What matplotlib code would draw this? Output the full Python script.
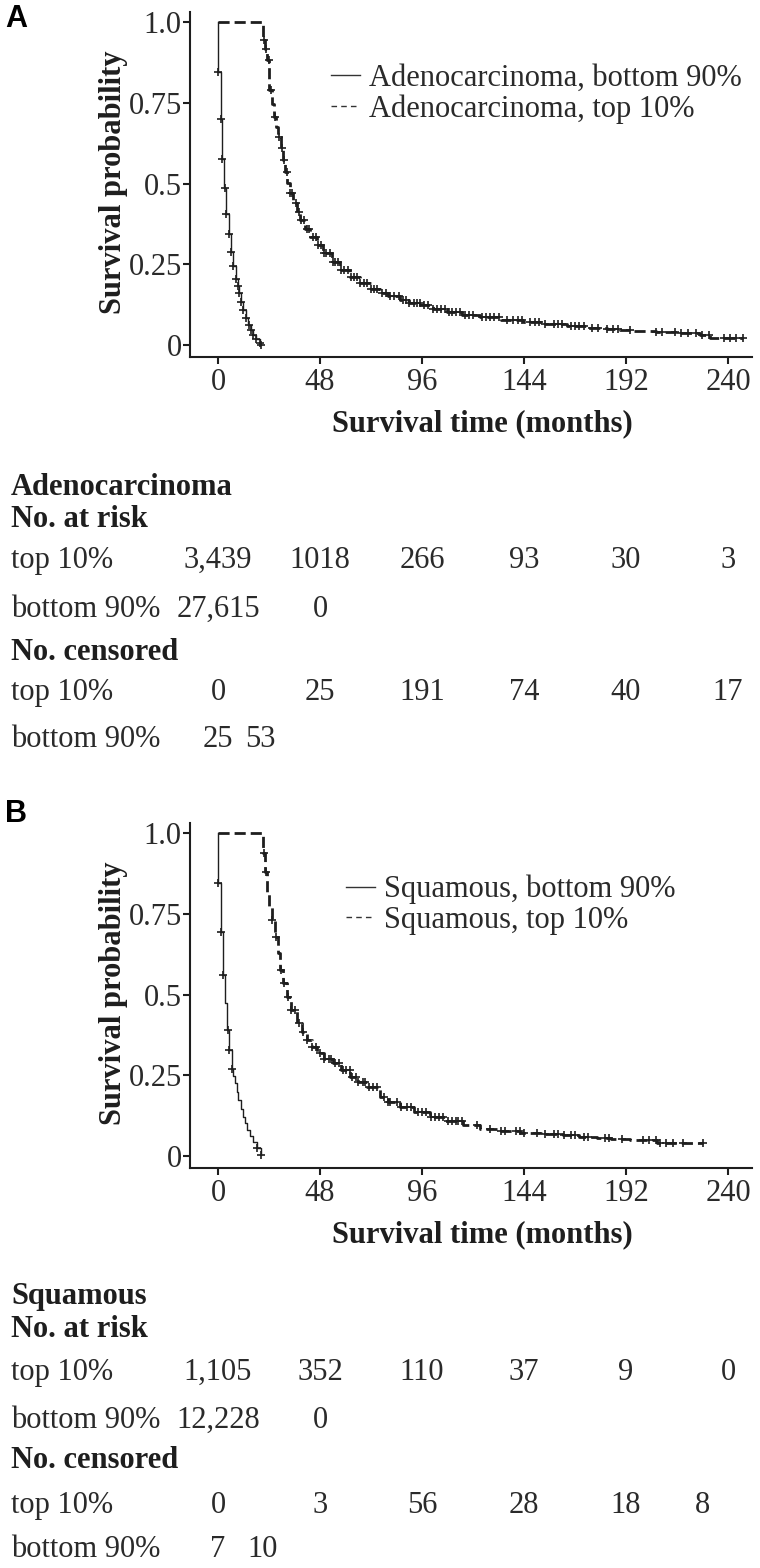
import numpy as np
import matplotlib
matplotlib.use("Agg")
import matplotlib.pyplot as plt
import matplotlib.transforms as mtransforms
from matplotlib.lines import Line2D

plt.rcParams['font.family'] = ['Liberation Serif', 'DejaVu Serif']

# ---- Panel A: Adenocarcinoma, KM curves ----
a_bot_t = [0, 0, 1.2, 2.0, 3.0, 3.8, 5.0, 6.1, 7.2, 8.5, 9.2, 10.0, 10.9, 11.9, 13.0, 14.3,
           15.4, 16.6, 18.0, 19.8, 20.4]
a_bot_s = [1.0, 0.846, 0.699, 0.575, 0.485, 0.406, 0.344, 0.289, 0.245, 0.206, 0.183, 0.160,
           0.134, 0.108, 0.085, 0.062, 0.046, 0.031, 0.018, 0.005, 0.0]
a_bot_cens = [0.05, 1.25, 2.05, 3.05, 3.85, 5.05, 6.15, 7.25, 8.55, 9.25, 10.05, 10.95, 11.95,
              13.05, 14.35, 15.45, 16.65, 18.05, 19.85, 20.4]

a_top_t = [0, 21.0, 21.3, 22.0, 22.9, 24.2, 25.2, 26.4, 27.4, 28.4, 29.4, 30.4, 31.5, 32.6,
           34.0, 35.5, 37.0, 38.6, 40.8, 43.3, 46.4, 49.6, 53.4, 57.4, 62.0, 66.8, 72.0, 76.2,
           80.0, 85.6, 90.0, 95.1, 101.0, 107.6, 115.0, 123.3, 133.0, 143.7, 153.0, 164.1,
           173.0, 182.9, 189.0, 195.4, 206.0, 217.4, 226.8, 231.5, 247.2]
a_top_s = [1.0, 1.0, 0.944, 0.915, 0.882, 0.789, 0.745, 0.707, 0.676, 0.645, 0.610, 0.573,
           0.537, 0.501, 0.470, 0.439, 0.413, 0.387, 0.360, 0.335, 0.310, 0.284, 0.258, 0.232,
           0.210, 0.191, 0.172, 0.160, 0.151, 0.139, 0.131, 0.124, 0.113, 0.103, 0.094, 0.086,
           0.079, 0.072, 0.066, 0.059, 0.054, 0.049, 0.046, 0.043, 0.040, 0.038, 0.031, 0.023,
           0.023]
a_top_cens = [21.5, 22.5, 24, 25, 27, 28.5, 30, 31, 32.5, 34, 35, 36.5, 38, 39, 40.5, 42, 43,
              44.5, 46, 47, 48.5, 50, 51, 52.5, 54, 55, 56.5, 58, 59.5, 61, 62.5, 64, 65.5, 67,
              68.5, 70, 72, 73.5, 75, 77, 79, 81, 83, 85, 87, 88.5, 90, 92, 93.5, 95, 97, 99,
              101, 103, 105, 107, 108.5, 110, 112, 114, 116, 118, 120, 124, 126, 128, 130, 132,
              136, 139, 141, 143, 147, 149, 151, 154, 158, 160, 162, 166, 168, 170, 172, 176,
              179, 183, 186, 188, 194, 206, 209, 215, 218, 221, 225, 228, 231, 238, 241, 244, 247]

# ---- Panel B: Squamous ----
b_bot_t = [0, 0, 1.2, 2.2, 3.3, 4.4, 5.3, 6.4, 7.2, 8.0, 8.8, 9.6, 10.6, 11.6, 12.5, 13.5,
           15.0, 16.6, 18.3, 20.1]
b_bot_s = [1.0, 0.844, 0.694, 0.560, 0.473, 0.390, 0.328, 0.271, 0.248, 0.225, 0.199, 0.173,
           0.147, 0.122, 0.101, 0.080, 0.062, 0.044, 0.024, 0.003]
b_bot_cens = [0.05, 1.25, 2.25, 4.45, 5.35, 6.45, 18.4, 20.1]

b_top_t = [0, 21.0, 21.3, 22.0, 22.9, 24.0, 25.3, 26.8, 28.0, 29.2, 30.8, 32.3, 34.5, 37.0,
           39.3, 41.7, 44.0, 46.4, 50.0, 54.3, 58.0, 62.1, 66.0, 70.0, 76.2, 80.0, 85.6, 92.0,
           99.8, 107.0, 115.4, 123.3, 132.0, 142.1, 152.0, 162.5, 170.0, 178.2, 185.0, 193.9,
           206.4, 228.4]
b_top_s = [1.0, 1.0, 0.937, 0.880, 0.813, 0.770, 0.731, 0.679, 0.628, 0.576, 0.535, 0.493,
           0.452, 0.411, 0.385, 0.359, 0.338, 0.318, 0.300, 0.287, 0.266, 0.246, 0.230, 0.215,
           0.184, 0.168, 0.152, 0.135, 0.122, 0.109, 0.096, 0.083, 0.078, 0.072, 0.068, 0.065,
           0.060, 0.055, 0.052, 0.050, 0.041, 0.041]
b_top_cens = [21.5, 22.5, 25.5, 27.5, 29.5, 31, 33, 34.5, 36, 38, 40, 42, 44, 46, 48, 50, 52,
              53, 55, 57, 59, 60, 62, 63, 65, 66, 68, 69, 71, 73, 75, 78, 80, 81, 84, 86, 89,
              91, 94, 96, 98, 100, 102, 104, 106, 108, 110, 112, 113, 115, 122, 128, 133, 135,
              140, 142, 144, 150, 154, 158, 160, 163, 166, 168, 172, 174, 182, 184, 190, 200,
              203, 206, 208, 211, 214, 219, 228.4]

# ---- risk tables ----
col_times = [0, 48, 96, 144, 192, 240]
a_risk_top = ["3,439", "1018", "266", "93", "30", "3"]
a_risk_bot = ["27,615", "0"]
a_cens_top = ["0", "25", "191", "74", "40", "17"]
a_cens_bot = ["25", "53"]
a_cens_bot_times = [0, 20]

b_risk_top = ["1,105", "352", "110", "37", "9", "0"]
b_risk_bot = ["12,228", "0"]
b_cens_top = ["0", "3", "56", "28", "18", "8"]
b_cens_top_times = [0, 48, 96, 144, 192, 228]
b_cens_bot = ["7", "10"]
b_cens_bot_times = [0, 21]

W, H = 760, 1568
fig = plt.figure(figsize=(W / 100, H / 100), dpi=100)
ink = '#1e1e1e'


def step_value(times, surv, t):
    i = np.searchsorted(times, t, side='right') - 1
    return np.asarray(surv)[i]


def km_panel(top_px, bot_t, bot_s, bot_c, top_t, top_s, top_c, names, leg_x):
    ax = fig.add_axes([190 / W, 1 - (top_px + 345) / H, 562 / W, 345 / H])
    ax.plot(bot_t, bot_s, drawstyle='steps-post', color=ink, lw=1.0)
    ax.plot(top_t, top_s, drawstyle='steps-post', color=ink, lw=2.0, ls=(0, (4, 1.8)))
    ax.plot(bot_c, step_value(bot_t, bot_s, bot_c), ls='none', marker='+',
            ms=5.5, mew=1.2, color=ink)
    ax.plot(top_c, step_value(top_t, top_s, top_c), ls='none', marker='+',
            ms=5.5, mew=1.2, color=ink)
    ax.set_xlim(-13.2, 251.3)
    ax.set_ylim(-0.037, 1.031)
    ax.set_xticks(col_times)
    ax.set_yticks([0, 0.25, 0.5, 0.75, 1.0])
    ax.set_yticklabels(["0", "0.25", "0.5", "0.75", "1.0"])
    for s in ['top', 'right']:
        ax.spines[s].set_visible(False)
    for s in ['left', 'bottom']:
        ax.spines[s].set_linewidth(1.5)
        ax.spines[s].set_color(ink)
    ax.tick_params(axis='both', labelsize=22, width=1.5, length=5, color=ink,
                   labelcolor='#2a2a2a')
    ax.tick_params(axis='y', pad=1)
    ax.tick_params(axis='x', pad=3)
    ax.set_ylabel("Survival probability", fontsize=22, fontweight='bold', color=ink)
    ax.yaxis.set_label_coords(-0.11, 0.506)
    ax.set_xlabel("Survival time (months)", fontsize=22, fontweight='bold', color=ink)
    ax.xaxis.set_label_coords(0.52, -0.15)
    handles = [Line2D([], [], color='#333333', lw=1.0),
               Line2D([], [], color='#333333', lw=1.0, ls=(0, (4, 3)))]
    ax.legend(handles, names, loc='upper left', bbox_to_anchor=(leg_x, 0.85),
              frameon=False, fontsize=22, handlelength=0.95, handletextpad=0.3,
              labelspacing=0.05, borderpad=0, borderaxespad=0, labelcolor='#2a2a2a')
    return ax


def risk_table(ax, title, rows_y, risk_top, risk_bot, cens_top, cens_top_t,
               cens_bot, cens_bot_t):
    tr = mtransforms.blended_transform_factory(ax.transData, fig.transFigure)
    fy = lambda y: 1 - y / H
    heads = [(title, rows_y[0]), ("No. at risk", rows_y[1]), ("No. censored", rows_y[4])]
    for txt, y in heads:
        fig.text(11 / W, fy(y), txt, fontsize=22, fontweight='bold', color=ink,
                 va='baseline', ha='left')
    for txt, y in [("top 10%", rows_y[2]), ("bottom 90%", rows_y[3]),
                   ("top 10%", rows_y[5]), ("bottom 90%", rows_y[6])]:
        fig.text(11 / W, fy(y), txt, fontsize=22, color='#2a2a2a', va='baseline', ha='left')
    for vals, times, y in [(risk_top, col_times, rows_y[2]), (risk_bot, col_times, rows_y[3]),
                           (cens_top, cens_top_t, rows_y[5]), (cens_bot, cens_bot_t, rows_y[6])]:
        for v, t in zip(vals, times):
            ax.text(t, fy(y), v, transform=tr, fontsize=22, color='#2a2a2a',
                    ha='center', va='baseline', clip_on=False)


axA = km_panel(12, a_bot_t, a_bot_s, a_bot_cens, a_top_t, a_top_s, a_top_cens,
               ["Adenocarcinoma, bottom 90%", "Adenocarcinoma, top 10%"], 0.25)
risk_table(axA, "Adenocarcinoma", [495, 527, 568, 617, 660, 700, 747],
           a_risk_top, a_risk_bot, a_cens_top, col_times, a_cens_bot, a_cens_bot_times)

axB = km_panel(823, b_bot_t, b_bot_s, b_bot_cens, b_top_t, b_top_s, b_top_cens,
               ["Squamous, bottom 90%", "Squamous, top 10%"], 0.277)
risk_table(axB, "Squamous", [1304, 1337, 1380, 1428, 1468, 1513, 1557],
           b_risk_top, b_risk_bot, b_cens_top, b_cens_top_times, b_cens_bot, b_cens_bot_times)

fig.text(5 / W, 1 - 4 / H, "A", fontsize=22, fontweight='bold', family='Liberation Sans',
         ha='left', va='top', color='black')
fig.text(5 / W, 1 - 799 / H, "B", fontsize=22, fontweight='bold', family='Liberation Sans',
         ha='left', va='top', color='black')

fig.savefig("out.png", dpi=100)
